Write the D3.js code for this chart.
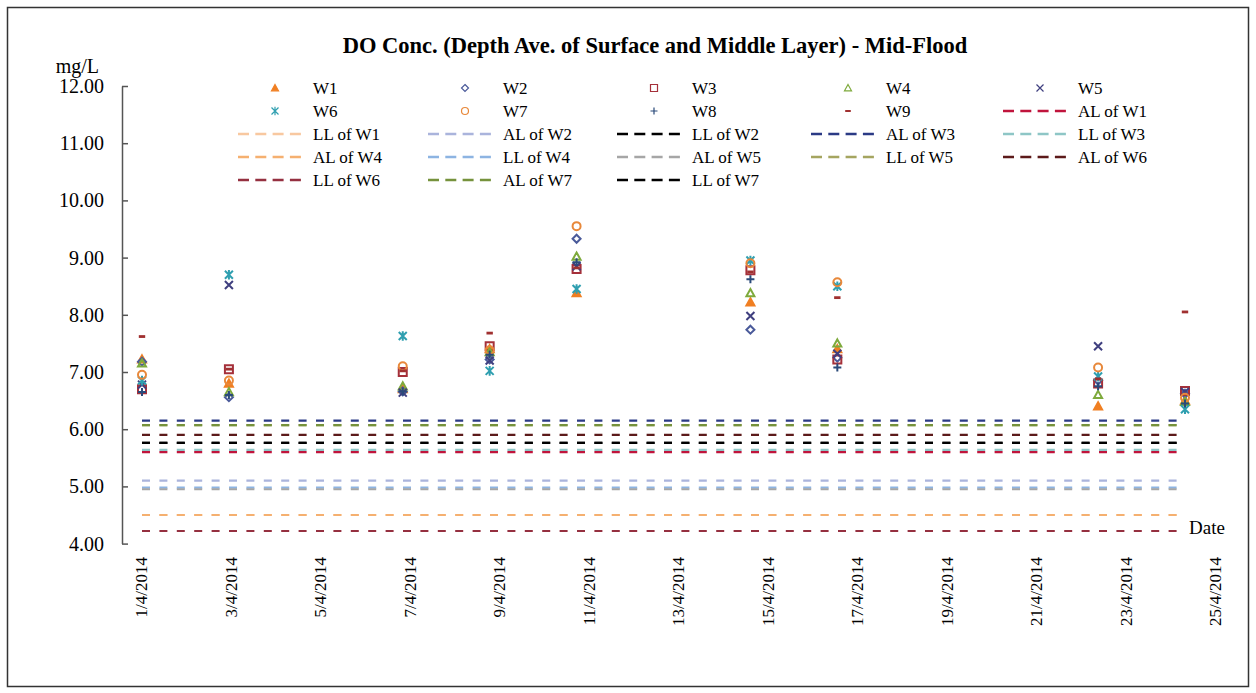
<!DOCTYPE html>
<html><head><meta charset="utf-8">
<script src="https://cdn.jsdelivr.net/npm/d3@7"></script>
<style>body{margin:0;background:#fff} text{font-family:"Liberation Serif","Times New Roman",serif;fill:#000}</style>
</head><body><svg id="c" width="1256" height="693"></svg>
<script>
// ---------- data ----------
const dates = ["2014-04-01","2014-04-03","2014-04-07","2014-04-09","2014-04-11","2014-04-15","2014-04-17","2014-04-23","2014-04-25"];
const W1 = [7.22, 6.80, 6.70, 7.40, 8.38, 8.22, 7.40, 6.40, 6.50];
const W2 = [7.18, 6.56, 6.66, 7.22, 9.33, 7.74, 7.25, 6.85, 6.62];
const W3 = [6.70, 7.05, 7.00, 7.45, 8.80, 8.78, 7.22, 6.80, 6.67];
const W4 = [7.15, 6.65, 6.75, 7.35, 9.02, 8.38, 7.50, 6.60, 6.48];
const W5 = [6.78, 8.52, 6.64, 7.20, 8.85, 7.98, 7.32, 7.45, 6.65];
const W6 = [6.85, 8.70, 7.63, 7.02, 8.45, 8.95, 8.50, 6.92, 6.35];
const W7 = [6.95, 6.85, 7.10, 7.38, 9.55, 8.90, 8.57, 7.08, 6.55];
const W8 = [6.65, 6.60, 6.66, 7.30, 8.92, 8.62, 7.08, 6.75, 6.45];
const W9 = [7.62, 7.05, 7.02, 7.68, 8.82, 8.75, 8.30, 6.88, 8.05];
const seriesNames = ["W1","W2","W3","W4","W5","W6","W7","W8","W9"];
const seriesValues = [W1,W2,W3,W4,W5,W6,W7,W8,W9];

const limitNames = ["AL of W1","LL of W1","AL of W2","LL of W2","AL of W3","LL of W3","AL of W4","LL of W4","AL of W5","LL of W5","AL of W6","LL of W6","AL of W7","LL of W7"];
const limitValues = [5.60, 4.50, 5.10, 5.76, 6.15, 5.64, 4.50, 4.98, 4.95, 6.07, 5.90, 4.22, 6.07, 5.76];

const tickDates = ["2014-04-01","2014-04-03","2014-04-05","2014-04-07","2014-04-09","2014-04-11","2014-04-13","2014-04-15","2014-04-17","2014-04-19","2014-04-21","2014-04-23","2014-04-25"];
const yTicks = [4,5,6,7,8,9,10,11,12];
const title = "DO Conc. (Depth Ave. of Surface and Middle Layer) - Mid-Flood";

// ---------- styles ----------
const seriesStyle = {
  W1:{sym:"tri",  color:"#f07f22", fill:true},
  W2:{sym:"dia",  color:"#4a5a9a"},
  W3:{sym:"sq",   color:"#a5303a"},
  W4:{sym:"tri",  color:"#7eaa3c"},
  W5:{sym:"x",    color:"#3f3f7f"},
  W6:{sym:"ast",  color:"#2f9fb0"},
  W7:{sym:"cir",  color:"#e8883a"},
  W8:{sym:"plus", color:"#2a4a7a"},
  W9:{sym:"dash", color:"#a03030"}
};
const limitColors = ["#c0143c","#f8c8a0","#aab4dc","#000000","#2b3a85","#8ec6c6","#f5b070","#8db4e2","#a6a6a6","#a5a560","#5c1a1a","#953040","#76923c","#000000"];

const parse = d3.timeParse("%Y-%m-%d");
const fmt = d3.timeFormat("%-d/%-m/%Y");
const serif = "Liberation Serif, Times New Roman, serif";

const svg = d3.select("#c");
svg.append("rect").attr("x",7.5).attr("y",7.5).attr("width",1241).attr("height",679)
  .attr("fill","#fff").attr("stroke","#333").attr("stroke-width",1.5);

const x = d3.scaleTime().domain([parse(dates[0]), parse(dates[dates.length-1])]).range([142,1185]);
const xLab = d3.scaleTime().domain([parse(tickDates[0]), parse(tickDates[tickDates.length-1])]).range([141,1215]);
const y = d3.scaleLinear().domain([4,12]).range([543.6,86]);

// title
svg.append("text").attr("x",655).attr("y",53).attr("text-anchor","middle")
  .style("font-size","22.5px").style("font-weight","bold").text(title);

// y axis
const yAxis = d3.axisLeft(y).tickValues(yTicks).tickFormat(d3.format(".2f")).tickSizeInner(-6).tickSizeOuter(0).tickPadding(18);
const gy = svg.append("g").attr("transform","translate(122,0)").attr("font-family",serif).call(yAxis);
gy.select(".domain").attr("stroke","#555").attr("stroke-width",1.5);
gy.selectAll(".tick line").attr("stroke","#555").attr("stroke-width",1.5);
gy.selectAll(".tick text").style("font-size","20px").style("font-family",serif).attr("fill","#000");
svg.append("text").attr("x",99).attr("y",73).attr("text-anchor","end").style("font-size","20px").text("mg/L");

// x tick labels (rotated)
const xAxis = d3.axisBottom(xLab).tickValues(tickDates.map(parse)).tickFormat(fmt).tickSize(0);
const gx = svg.append("g").attr("transform","translate(0,557)").attr("font-family",serif).call(xAxis);
gx.select(".domain").remove();
gx.selectAll(".tick text").attr("transform","rotate(-90)").attr("x",0).attr("y",0).attr("dy","0.35em")
  .attr("text-anchor","end").style("font-size","17px").style("font-family",serif).attr("fill","#000");
svg.append("text").attr("x",1189).attr("y",534).style("font-size","19px").text("Date");

// limit lines
const line = d3.line().x(d=>x(d[0])).y(d=>y(d[1]));
limitValues.forEach((v,i)=>{
  svg.append("path").datum([[parse(dates[0]),v],[parse(dates[dates.length-1]),v]])
    .attr("d",line).attr("fill","none").attr("stroke",limitColors[i]).attr("stroke-width",2.2)
    .attr("stroke-dasharray","8,9.4");
});

// marker path
function markerPath(sym,r){
  switch(sym){
    case "tri": return `M0,${-r}L${r},${r*0.8}L${-r},${r*0.8}Z`;
    case "dia": return `M0,${-r}L${r},0L0,${r}L${-r},0Z`;
    case "sq": return `M${-r},${-r}H${r}V${r}H${-r}Z`;
    case "cir": return `M${r},0A${r},${r} 0 1,1 ${-r},0A${r},${r} 0 1,1 ${r},0Z`;
    case "x": return `M${-r},${-r}L${r},${r}M${-r},${r}L${r},${-r}`;
    case "ast": return `M${-r},${-r}L${r},${r}M${-r},${r}L${r},${-r}M0,${-r*1.2}L0,${r*1.2}`;
    case "plus": return `M${-r},0L${r},0M0,${-r}L0,${r}`;
    case "dash": return `M${-r*0.8},0L${r*0.8},0`;
  }
}
function drawMarker(g,name,cx,cy,r,sw){
  const st = seriesStyle[name];
  g.append("path").attr("d",markerPath(st.sym,r)).attr("transform",`translate(${cx},${cy})`)
    .attr("fill", st.fill ? st.color : "none").attr("stroke",st.color).attr("stroke-width", st.sym==="dash"? sw+0.8 : sw);
}

// points
const gp = svg.append("g");
seriesNames.forEach((n,si)=>{
  seriesValues[si].forEach((v,di)=>{
    drawMarker(gp,n,x(parse(dates[di])),y(v),4,2);
  });
});

// legend
const colX = [313,503,692,886,1078];
const rowY = [88,111,134,157,180];
const legendItems = seriesNames.map(n=>({type:"s",name:n})).concat(limitNames.map((n,i)=>({type:"l",name:n,i})));
const gl = svg.append("g");
legendItems.forEach((it,k)=>{
  const cx = colX[k%5], cy = rowY[Math.floor(k/5)];
  if(it.type==="s"){
    drawMarker(gl,it.name,cx-38,cy,3.5,1.2);
  } else {
    gl.append("line").attr("x1",cx-75).attr("x2",cx-12).attr("y1",cy).attr("y2",cy)
      .attr("stroke",limitColors[it.i]).attr("stroke-width",2.5).attr("stroke-dasharray","11,6.3");
  }
  gl.append("text").attr("x",cx).attr("y",cy).attr("dy","0.35em").style("font-size","17px").text(it.name);
});
</script></body></html>
